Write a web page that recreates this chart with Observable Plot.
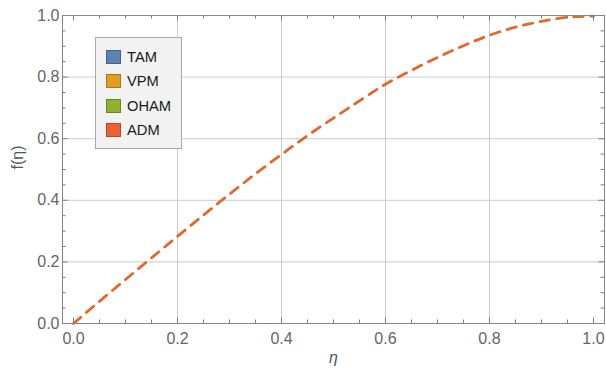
<!DOCTYPE html>
<html><head><meta charset="utf-8">
<script src="https://cdn.jsdelivr.net/npm/d3@7"></script>
<script src="https://cdn.jsdelivr.net/npm/@observablehq/plot@0.6"></script>
<style>
body{margin:0;background:#fff;font-family:"Liberation Sans",Arial,sans-serif;}
#wrap{position:relative;width:606px;height:374px;}
.legend{position:absolute;left:95px;top:37px;width:87px;height:112px;box-sizing:border-box;background:#f2f2f2;border:1px solid #a9a9a9;padding-top:7px;}
.row{position:relative;height:24.3px;}
.sw{position:absolute;left:10px;top:5px;width:15px;height:14px;box-sizing:border-box;border:1.5px solid;}
.lb{position:absolute;left:31px;top:3px;font-size:14.7px;line-height:18px;color:#1a1a1a;}
</style></head><body><div id="wrap"></div>
<script>
// eta values and ADM series f(eta)
const eta  = [0, 0.05, 0.1, 0.15, 0.2, 0.25, 0.3, 0.35, 0.4, 0.45, 0.5, 0.55, 0.6, 0.65, 0.7, 0.75, 0.8, 0.85, 0.9, 0.95, 1.0];
const fADM = [0, 0.072, 0.143, 0.213, 0.283, 0.352, 0.42, 0.486, 0.549, 0.61, 0.667, 0.723, 0.777, 0.822, 0.864, 0.902, 0.936, 0.962, 0.981, 0.994, 0.998];
const seriesNames  = ["TAM", "VPM", "OHAM", "ADM"];
const seriesColors = ["#5E81B5", "#E19C24", "#8FB032", "#EB6235"];
const seriesEdges  = ["#46638e", "#ad7716", "#6b8724", "#b84a26"];
const xTicks = [0, 0.2, 0.4, 0.6, 0.8, 1.0];
const yTicks = [0, 0.2, 0.4, 0.6, 0.8, 1.0];
const minorTicks = [0.05,0.1,0.15,0.25,0.3,0.35,0.45,0.5,0.55,0.65,0.7,0.75,0.85,0.9,0.95];
const gridVals = [0.2, 0.4, 0.6, 0.8];
const xLabel = "η";
const yLabel = "f(η)";

const W = 606, H = 374, mL = 62, mR = 2, mT = 15, mB = 51;
const ph = H - mT - mB, pw = W - mL - mR;
const data = eta.map((x, i) => ({x, y: fADM[i]}));
const tc = "#7d7d7d";
const maj = 5.5, mnr = 3.5;

const chart = Plot.plot({
  width: W, height: H,
  marginLeft: mL, marginRight: mR, marginTop: mT, marginBottom: mB,
  style: {fontFamily: "Liberation Sans, Arial, sans-serif", fontSize: "16px", background: "#fff", overflow: "visible"},
  x: {domain: [-0.0212, 1.0212]},
  y: {domain: [0, 1]},
  marks: [
    Plot.gridX(gridVals, {stroke: "#cdcdcd", strokeOpacity: 1}),
    Plot.gridY(gridVals, {stroke: "#cdcdcd", strokeOpacity: 1}),
    Plot.line(data, {x: "x", y: "y", stroke: "#E4672C", strokeWidth: 2.8, strokeDasharray: "9.5,7.5", curve: "monotone-x"}),
    Plot.ruleX(xTicks, {insetTop: ph - maj, stroke: tc}),
    Plot.ruleX(xTicks, {insetBottom: ph - maj, stroke: tc}),
    Plot.ruleX(minorTicks, {insetTop: ph - mnr, stroke: tc}),
    Plot.ruleX(minorTicks, {insetBottom: ph - mnr, stroke: tc}),
    Plot.ruleY(yTicks, {insetRight: pw - maj, stroke: tc}),
    Plot.ruleY(yTicks, {insetLeft: pw - maj, stroke: tc}),
    Plot.ruleY(minorTicks, {insetRight: pw - mnr, stroke: tc}),
    Plot.ruleY(minorTicks, {insetLeft: pw - mnr, stroke: tc}),
    Plot.frame({stroke: "#858585"}),
    Plot.axisX({ticks: xTicks, tickSize: 0, tickPadding: 9, tickFormat: d3.format(".1f"), label: null, fill: "#666"}),
    Plot.axisY({ticks: yTicks, tickSize: 0, tickPadding: 3, tickFormat: d3.format(".1f"), label: null, fill: "#666"}),
    Plot.text([xLabel], {text: d => d, frameAnchor: "bottom", dy: 39, fontStyle: "italic", fill: "#555"}),
    Plot.text([yLabel], {text: d => d, frameAnchor: "left", dx: -45, rotate: -90, fill: "#555"})
  ]
});
const wrap = document.getElementById("wrap");
wrap.appendChild(chart);
const lg = document.createElement("div");
lg.className = "legend";
seriesNames.forEach((n, i) => {
  const r = document.createElement("div"); r.className = "row";
  const s = document.createElement("div"); s.className = "sw";
  s.style.background = seriesColors[i]; s.style.borderColor = seriesEdges[i];
  const t = document.createElement("div"); t.className = "lb"; t.textContent = n;
  r.appendChild(s); r.appendChild(t); lg.appendChild(r);
});
wrap.appendChild(lg);
</script></body></html>
